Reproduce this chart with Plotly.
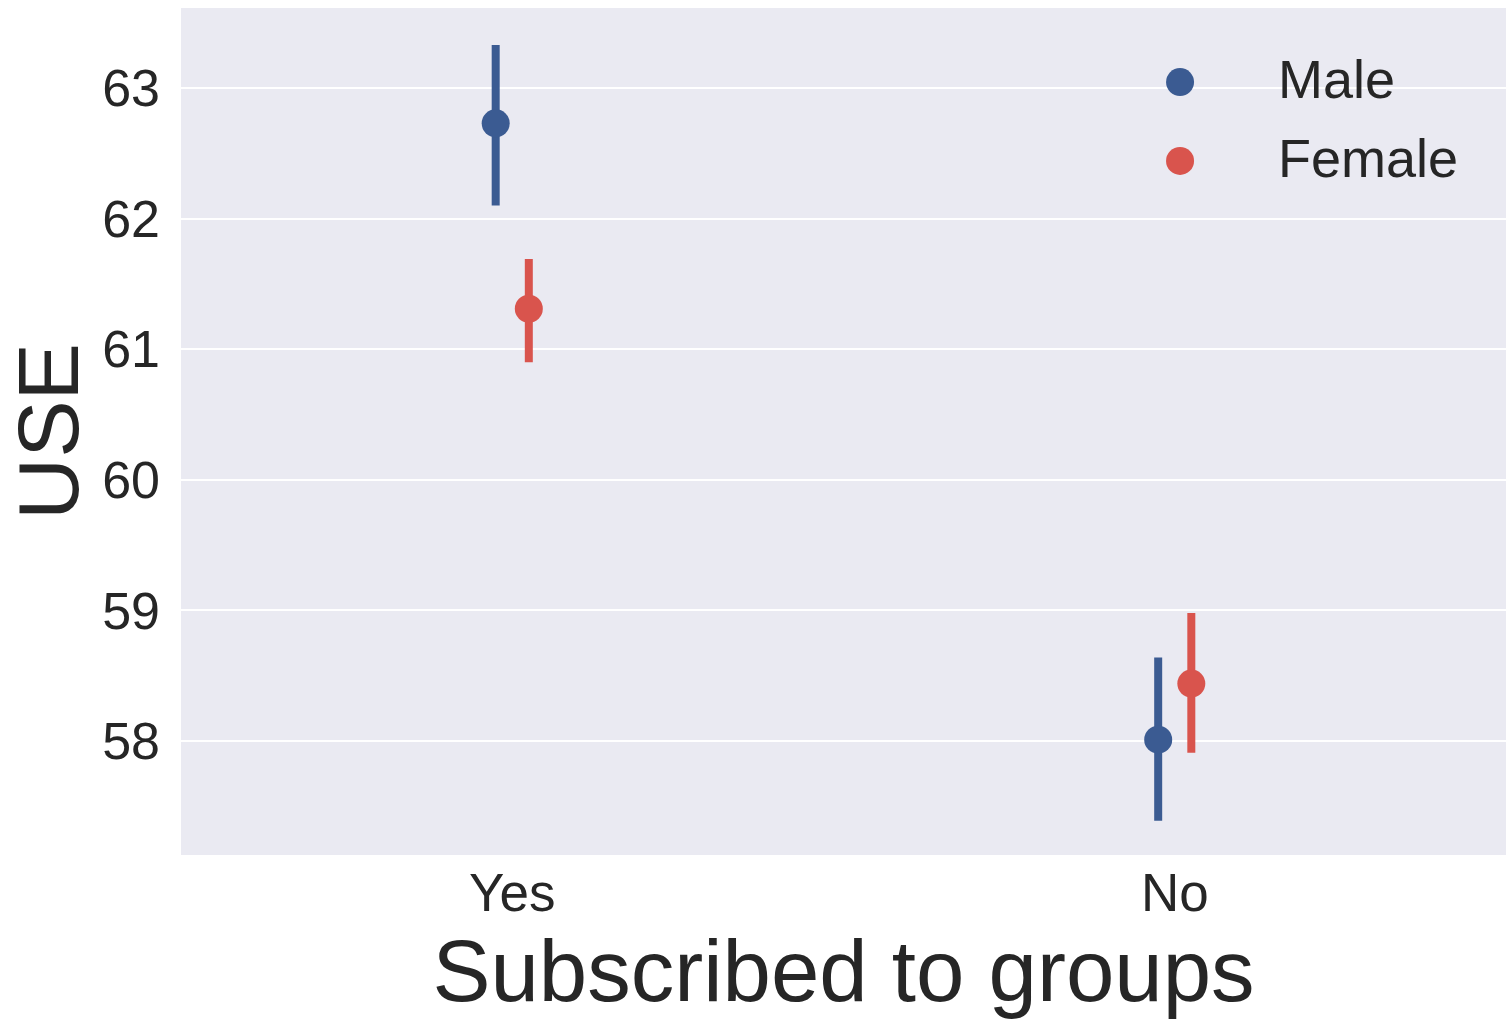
import plotly.graph_objects as go

categories = ["Yes", "No"]
groups = ["Male", "Female"]
means = {"Male": [62.73, 58.01], "Female": [61.31, 58.44]}
ci_low = {"Male": [62.10, 57.39], "Female": [60.90, 57.91]}
ci_high = {"Male": [63.33, 58.64], "Female": [61.69, 58.98]}
colors = {"Male": "#3b5b92", "Female": "#d9544d"}

dodge = 0.05
fig = go.Figure()
for i, g in enumerate(groups):
    off = -dodge / 2 + i * dodge
    xs = [k + off for k in range(len(categories))]
    m = means[g]
    fig.add_trace(go.Scatter(
        x=xs, y=m, mode="markers", name=g, showlegend=False,
        marker=dict(size=28, color=colors[g]),
        error_y=dict(type="data", symmetric=False,
                     array=[h - v for h, v in zip(ci_high[g], m)],
                     arrayminus=[v - l for l, v in zip(ci_low[g], m)],
                     thickness=8, width=0, color=colors[g]),
    ))

# legend drawn manually (plotly caps legend marker size)
leg_y = [0.9126, 0.8194]
for g, yy in zip(groups, leg_y):
    fig.add_shape(type="circle", xref="paper", yref="paper",
                  xsizemode="pixel", ysizemode="pixel",
                  xanchor=0.754, yanchor=yy, x0=-14, x1=14, y0=-14, y1=14,
                  fillcolor=colors[g], line=dict(width=0))
    fig.add_annotation(text=g, xref="paper", yref="paper", x=0.8264, y=yy + 0.003,
                       xanchor="left", yanchor="middle", showarrow=False,
                       font=dict(size=54, color="#262626"))

font = "Liberation Sans, Arial, sans-serif"
fig.update_layout(
    width=1506, height=1020,
    margin=dict(l=181, r=0, t=8, b=165),
    paper_bgcolor="white", plot_bgcolor="#eaeaf2",
    font=dict(family=font, color="#262626"),
    showlegend=False,
    xaxis=dict(range=[-0.5, 1.5], tickvals=list(range(len(categories))),
               ticktext=categories, showgrid=False, zeroline=False,
               tickfont=dict(size=53), ticks="", ticklabelstandoff=2,
               automargin=False,
               title=dict(text="Subscribed to groups", font=dict(size=87), standoff=13)),
    yaxis=dict(range=[57.127, 63.613], tickvals=[58, 59, 60, 61, 62, 63],
               showgrid=True, gridcolor="white", gridwidth=2, zeroline=False,
               tickfont=dict(size=52), ticks="", ticklabelstandoff=20,
               automargin=False,
               title=dict(text="USE", font=dict(size=86), standoff=26)),
)
fig.write_html("out.html", config={"displayModeBar": False},
               post_script="document.body.style.margin='0px';")
